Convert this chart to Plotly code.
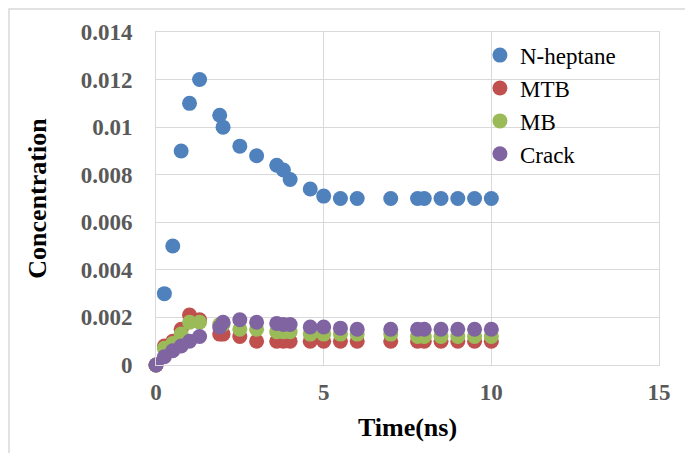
import plotly.graph_objects as go

# Simulation output: species concentration vs time
time_ns = [0, 0.25, 0.5, 0.75, 1.0, 1.3, 1.9, 2.0, 2.5, 3.0, 3.6, 3.8, 4.0, 4.6,
           5.0, 5.5, 6.0, 7.0, 7.8, 8.0, 8.5, 9.0, 9.5, 10.0]
n_heptane = [0, 0.003, 0.005, 0.009, 0.011, 0.012, 0.0105, 0.0100, 0.0092, 0.0088,
             0.0084, 0.0082, 0.0078, 0.0074, 0.0071, 0.0070, 0.0070, 0.0070, 0.0070,
             0.0070, 0.0070, 0.0070, 0.0070, 0.0070]
mtb = [0, 0.0008, 0.0010, 0.0015, 0.0021, 0.0019, 0.0013, 0.0013, 0.0012, 0.0010,
       0.0010, 0.0010, 0.0010, 0.0010, 0.0010, 0.0010, 0.0010, 0.0010, 0.0010,
       0.0010, 0.0010, 0.0010, 0.0010, 0.0010]
mb = [0, 0.0007, 0.0009, 0.0013, 0.0018, 0.0018, 0.0017, 0.0017, 0.0015, 0.0015,
      0.0014, 0.0014, 0.0014, 0.0013, 0.0013, 0.0013, 0.0013, 0.0013, 0.0012,
      0.0012, 0.0012, 0.0012, 0.0012, 0.0012]
crack = [0, 0.00035, 0.0006, 0.0008, 0.0010, 0.0012, 0.0016, 0.0018, 0.0019, 0.0018,
         0.00175, 0.0017, 0.0017, 0.0016, 0.0016, 0.00155, 0.0015, 0.0015, 0.0015,
         0.0015, 0.0015, 0.0015, 0.0015, 0.0015]

series_names = ["N-heptane", "MTB", "MB", "Crack"]
series_values = [n_heptane, mtb, mb, crack]
series_colors = ["#4F81BD", "#C0504D", "#9BBB59", "#8064A2"]

y_ticks = [0, 0.002, 0.004, 0.006, 0.008, 0.010, 0.012, 0.014]
y_tick_labels = ["0", "0.002", "0.004", "0.006", "0.008", "0.01", "0.012", "0.014"]
x_ticks = [0, 5, 10, 15]

fig = go.Figure()
for name, vals, col in zip(series_names, series_values, series_colors):
    fig.add_trace(go.Scatter(
        x=time_ns, y=vals, name=name, mode="markers",
        marker=dict(size=15, color=col),
        cliponaxis=False,
    ))

grid = "#D9D9D9"
tick_font = dict(family="Liberation Serif", size=23, color="#595959", weight="bold")
title_font = dict(family="Liberation Serif", size=26, color="black")

fig.update_layout(
    width=685, height=453,
    margin=dict(l=156, r=26, t=32, b=88),
    paper_bgcolor="white", plot_bgcolor="white",
    font=dict(family="Liberation Serif", color="black"),
    showlegend=True,
    legend=dict(
        x=0.644, y=0.995, xanchor="left", yanchor="top",
        bgcolor="rgba(0,0,0,0)",
        font=dict(family="Liberation Serif", size=23, color="black"),
        tracegroupgap=0,
    ),
    xaxis=dict(
        range=[0, 15], tickvals=x_ticks, ticks="", ticklabelstandoff=6,
        showgrid=True, gridcolor=grid, gridwidth=1,
        showline=True, linecolor=grid, mirror=True, zeroline=False,
        tickfont=tick_font,
        title=dict(text="<b>Time(ns)</b>", font=title_font, standoff=14),
    ),
    yaxis=dict(
        range=[0, 0.014], tickvals=y_ticks, ticktext=y_tick_labels, ticks="",
        ticklabelstandoff=18,
        showgrid=True, gridcolor=grid, gridwidth=1,
        showline=True, linecolor=grid, mirror=True, zeroline=False,
        tickfont=tick_font,
        title=dict(text="<b>Concentration</b>", font=title_font, standoff=26),
    ),
    shapes=[dict(
        type="rect", xref="paper", yref="paper",
        x0=-147 / 503, x1=1.2, y0=-0.5, y1=1 + 23 / 333,
        line=dict(color=grid, width=1.5), fillcolor="rgba(0,0,0,0)", layer="below",
    )],
)

fig.write_html("out.html")
